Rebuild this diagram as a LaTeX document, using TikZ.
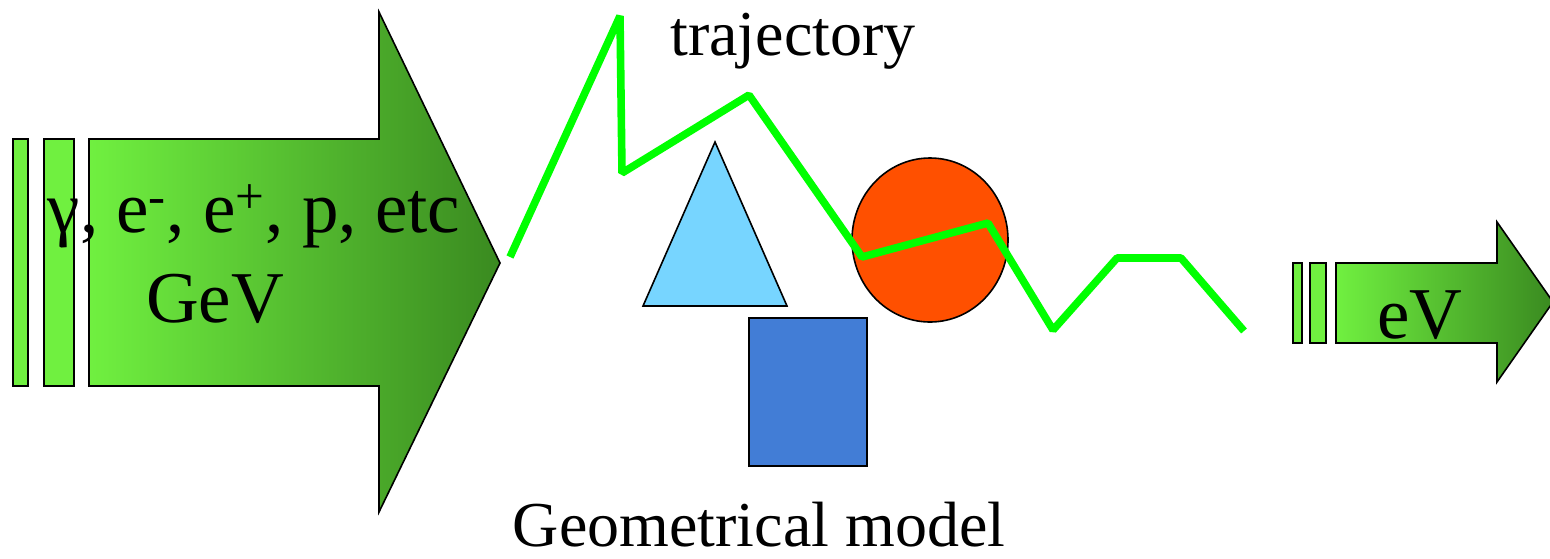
\documentclass[tikz,border=0pt]{standalone}
\usepackage{fontspec}
\setmainfont{Liberation Serif}
\definecolor{barg}{HTML}{70F040}
\definecolor{darkg}{HTML}{3A8A20}
\definecolor{traj}{HTML}{00FF00}
\definecolor{tri}{HTML}{77D5FF}
\definecolor{sq}{HTML}{427DD6}
\definecolor{circ}{HTML}{FF5000}
\begin{document}
\begin{tikzpicture}[x=0.5pt,y=-0.5pt,
  outl/.style={draw=black,line width=0.8pt},
  bar/.style={outl,fill=barg},
  arrtxt/.style={font=\fontsize{36.5}{40}\selectfont,inner sep=0pt},
  lbltxt/.style={font=\fontsize{32}{36}\selectfont,inner sep=0pt},
  trajline/.style={draw=traj,line width=3.8pt,line join=bevel}]
\useasboundingbox (0,0) rectangle (1550,558);
% left bars and big arrow
\draw[bar] (13,139) rectangle (28,386);
\draw[bar] (44,139) rectangle (74,386);
\draw[outl,left color=barg,right color=darkg]
  (89,139) -- (379,139) -- (379,12) -- (500,263) -- (379,512) -- (379,386) -- (89,386) -- cycle;
\node[arrtxt,anchor=base] (parts) at (254,232) {γ, e\textsuperscript{-}, e\textsuperscript{+}, p, etc};
\node[arrtxt,anchor=base] (gev) at (215,322) {GeV};
% right bars and small arrow
\draw[bar] (1293,263) rectangle (1302,343);
\draw[bar] (1310,263) rectangle (1326,343);
\draw[outl,left color=barg,right color=darkg]
  (1336,263) -- (1497,263) -- (1497,222) -- (1553,302) -- (1497,382) -- (1497,343) -- (1336,343) -- cycle;
\node[arrtxt,anchor=base] (ev) at (1420,338) {eV};
% geometry
\draw[outl,fill=tri] (715,142) -- (787,306) -- (643,306) -- cycle;
\draw[outl,fill=sq] (749,318) rectangle (867,466);
\draw[outl,fill=circ] (930,240) ellipse [x radius=78,y radius=82];
% trajectory
\coordinate (t0) at (510,257);
\coordinate (t1) at (620,16);
\coordinate (t2) at (622,173);
\coordinate (t3) at (749,95);
\coordinate (t4) at (862,257);
\coordinate (t5) at (988,223);
\coordinate (t6) at (1053,330);
\coordinate (t7) at (1117,258);
\coordinate (t8) at (1181,258);
\coordinate (t9) at (1244,331);
\draw[trajline] (t0) -- (t1) -- (t2) -- (t3) -- (t4) -- (t5) -- (t6) -- (t7) -- (t8) -- (t9);
% labels
\node[lbltxt,anchor=base] (trajlbl) at (793,55) {trajectory};
\node[lbltxt,anchor=base] (geolbl) at (759,546) {Geometrical model};
\end{tikzpicture}
\end{document}
